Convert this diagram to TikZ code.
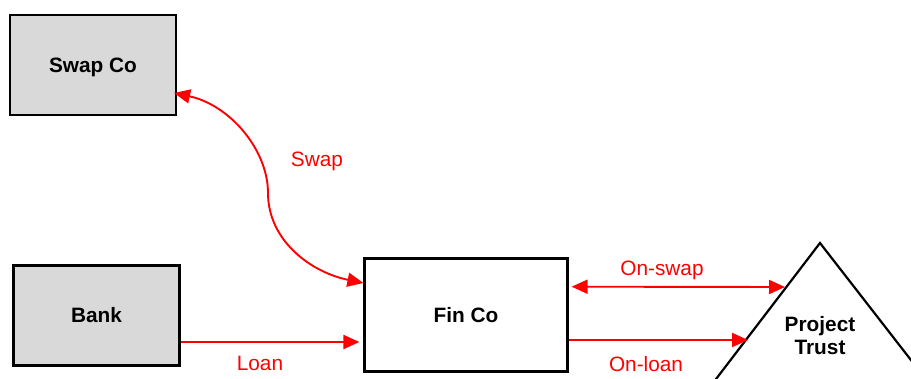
\documentclass[tikz,border=0pt]{standalone}
\usepackage{fontspec}
\setmainfont{Liberation Sans}
\usetikzlibrary{arrows.meta,calc}
\definecolor{boxgray}{HTML}{D9D9D9}
\begin{document}
\begin{tikzpicture}[x=1pt,y=-1pt,
  entity/.style={draw=black,line width=2.2pt,fill=boxgray,minimum width=166pt,minimum height=100pt,inner sep=0pt},
  plainbox/.style={draw=black,line width=2.2pt,fill=white,minimum width=203pt,minimum height=113pt,inner sep=0pt},
  flow/.style={draw=red,line width=1.9pt,-{Triangle[length=16pt,width=14pt]}},
  dflow/.style={draw=red,line width=1.9pt,{Triangle[length=16pt,width=14pt]}-{Triangle[length=16pt,width=14pt]}},
  lbl/.style={text=red,font=\fontsize{20.8}{24}\selectfont,anchor=base,inner sep=0pt},
  blbl/.style={font=\fontsize{20.8}{24}\selectfont\bfseries,anchor=base,inner sep=0pt}]
\useasboundingbox (0,0) rectangle (911,379);
\clip (0,0) rectangle (911,379);
% boxes
\node[entity] (swapco) at (93,65) {};
\node[blbl] at (93,73) {Swap Co};
\node[entity] (bank) at (96.5,315.5) {};
\node[blbl] at (96.5,322.7) {Bank};
\node[plainbox] (finco) at (466,315) {};
\node[blbl] at (466,322.7) {Fin Co};
% triangle (project trust)
\draw[line width=2.2pt,line join=miter] (700,400) -- (820,243) -- (942,400);
\coordinate (trustleftA) at (785,287);
\coordinate (trustleftB) at (748,340);
\node[blbl] (proj) at (820,332) {Project};
\node[blbl] (trust) at (820,355) {Trust};
% connectors
\coordinate (swapstart) at ($(swapco.east)+(-3,28)$);
\coordinate (swapend) at ($(finco.west)+(0,-32)$);
\coordinate (swapmid) at (268,193);
\draw[dflow] (swapstart) .. controls (230,105) and (268,150) .. (swapmid)
  .. controls (268,240) and (310,272) .. (swapend);
\node[lbl] at (317,167) {Swap};
\draw[flow] ($(bank.east)+(0,26.5)$) -- ($(finco.west)+(-4,27)$);
\node[lbl] at (260,371) {Loan};
\draw[dflow] ($(finco.east)+(3,-28.3)$) -- (trustleftA);
\node[lbl] at (662,275.7) {On-swap};
\draw[flow] ($(finco.east)+(0,25)$) -- (trustleftB);
\node[lbl] at (646,372) {On-loan};
\end{tikzpicture}
\end{document}
